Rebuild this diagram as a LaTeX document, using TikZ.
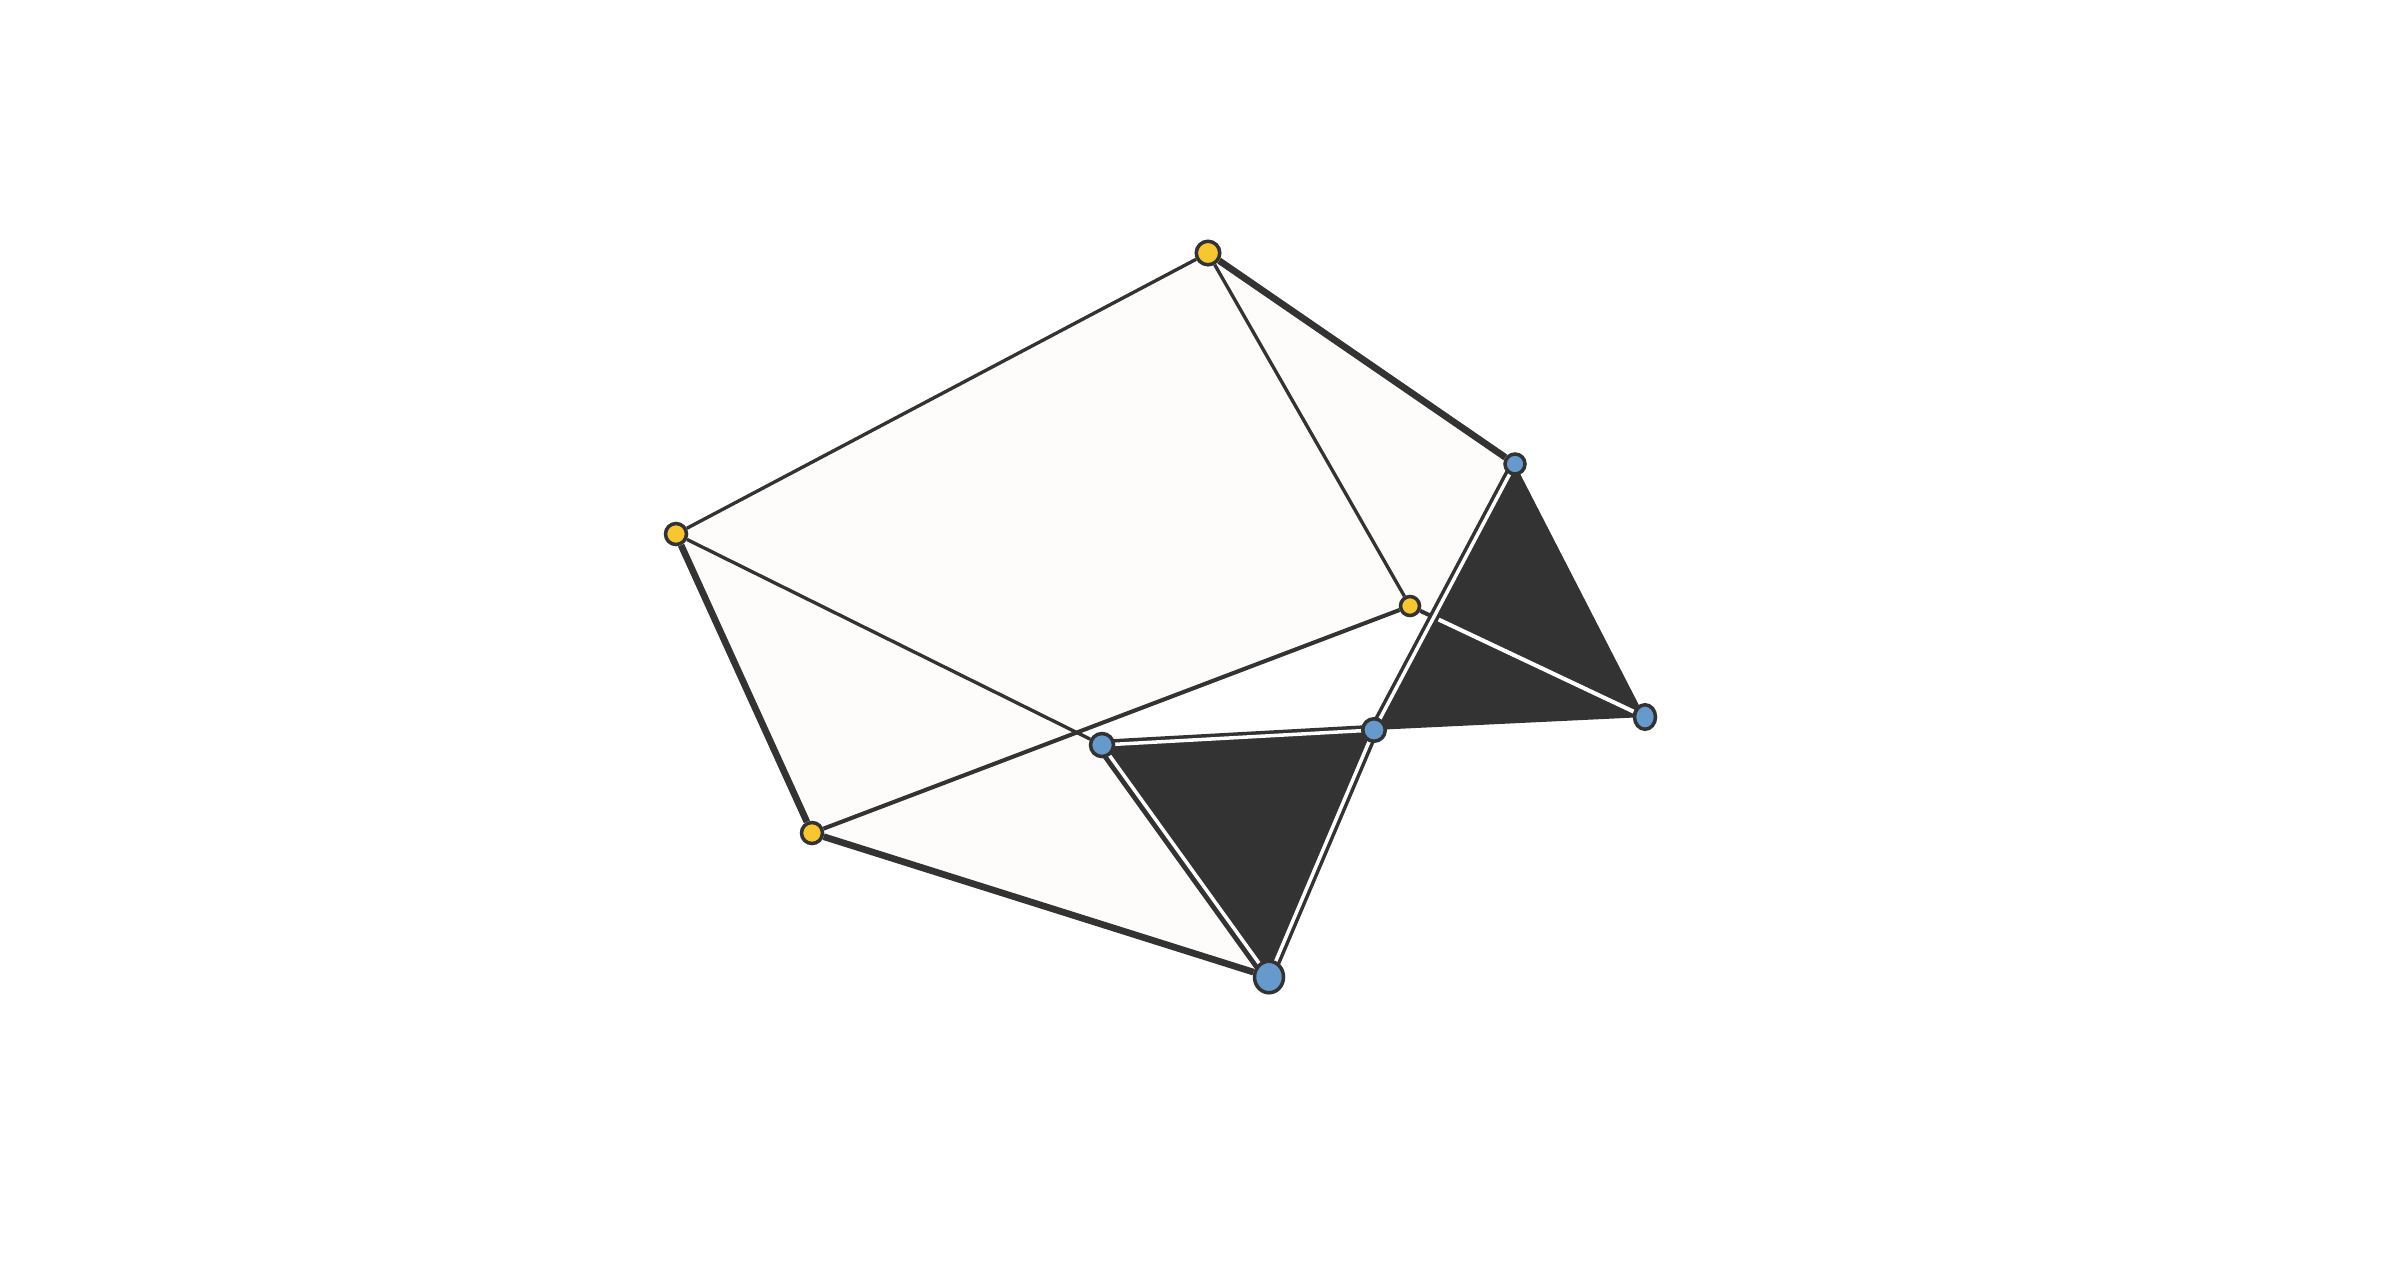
\documentclass[tikz,border=0pt]{standalone}
\usetikzlibrary{shapes.geometric}
\pgfdeclarelayer{background}
\pgfsetlayers{background,main}
\definecolor{ink}{HTML}{333333}
\definecolor{paper}{HTML}{FDFCFA}
\definecolor{goldfill}{HTML}{F8C630}
\definecolor{steelfill}{HTML}{6699CC}
\begin{document}
\begin{tikzpicture}[x=0.01cm,y=-0.01cm,
  vtx/.style={draw=ink,line width=1pt,inner sep=0pt},
  yel/.style={vtx,circle,fill=goldfill},
  blu/.style={vtx,circle,fill=steelfill},
  blue/.style={vtx,ellipse,fill=steelfill},
  thinedge/.style={draw=ink,line width=0.95pt},
  midedge/.style={draw=ink,line width=1.15pt},
  thickedge/.style={draw=ink,line width=1.9pt},
  dbl/.style={draw=ink,line width=1pt,double=white,double distance=1pt},
]
\useasboundingbox (0,0) rectangle (2400,1260);

% vertices
\node[yel,minimum size=0.235cm] (A) at (1208,253) {};
\node[yel,minimum size=0.21cm] (B) at (676,534) {};
\node[yel,minimum size=0.21cm] (C) at (812,833) {};
\node[yel,minimum size=0.19cm] (D) at (1410,606) {};
\node[blu,minimum size=0.20cm] (E) at (1515,464) {};
\node[blue,minimum width=0.21cm,minimum height=0.245cm] (F) at (1645,717) {};
\node[blu,minimum size=0.225cm] (G) at (1374,730) {};
\node[blu,minimum size=0.23cm] (H) at (1102,745) {};
\node[blue,minimum width=0.29cm,minimum height=0.315cm] (I) at (1269,977) {};

\coordinate (Q) at (intersection of D--F and E--G);
\coordinate (X) at (intersection of C--D and B--H);

\begin{pgfonlayer}{background}
  \fill[white] (0,0) rectangle (2400,1260);
  % faces
  \fill[paper] (A.center) -- (E.center) -- (Q) -- (D.center) -- (X) -- (H.center)
     -- (I.center) -- (C.center) -- (B.center) -- cycle;
  \fill[ink] (E.center) -- (G.center) -- (F.center) -- cycle;
  \fill[ink] (H.center) -- (G.center) -- (I.center) -- cycle;
  % plain edges
  \draw[thinedge] (A) -- (B);
  \draw[thickedge] (A) -- (E);
  \draw[thinedge] (A) -- (D);
  \draw[thickedge] (B) -- (C);
  \draw[thinedge] (B) -- (H);
  \draw[midedge] (C) -- (D);
  \draw[thickedge] (C) -- (I);
  \draw[midedge] (D) -- (Q);
  \draw[white,line width=1.15pt] (Q) -- (F);
  % double edges
  \draw[dbl] (H.center) -- (G.center);
  \draw[dbl,line width=1.4pt] (H.center) -- (I.center);
  \draw[dbl] (G.center) -- (I.center);
  \draw[dbl] (G.center) -- (E.center);
\end{pgfonlayer}
\end{tikzpicture}
\end{document}
